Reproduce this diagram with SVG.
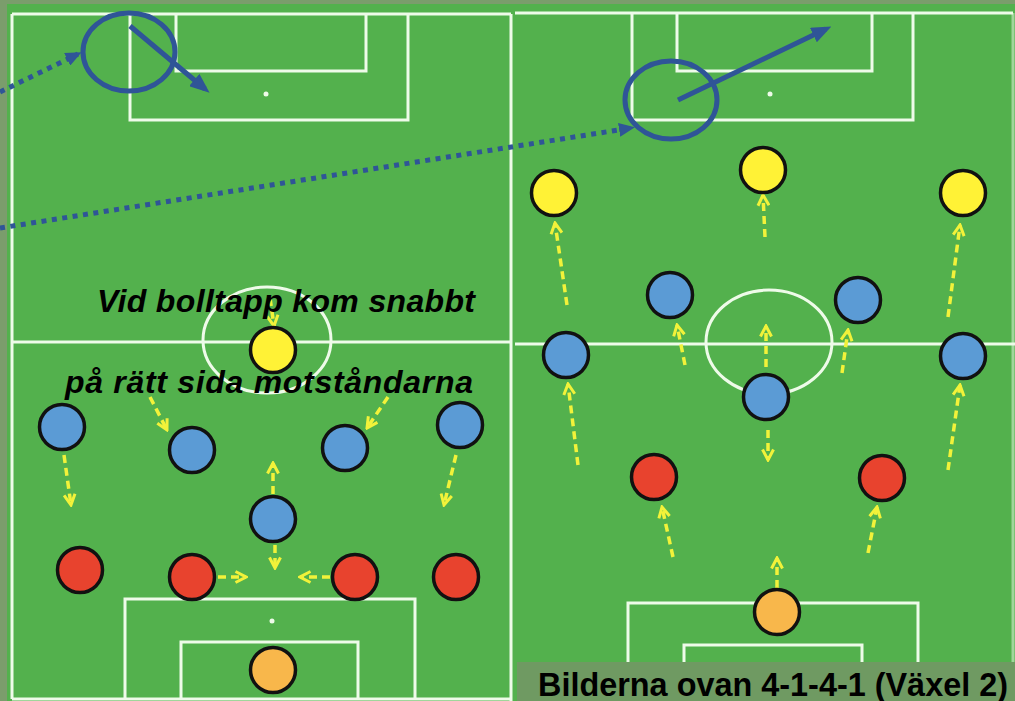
<svg xmlns="http://www.w3.org/2000/svg" width="1015" height="701" viewBox="0 0 1015 701">
<defs>
<style>
.line{fill:none;stroke:#eefbe9;stroke-width:3}
.spot{fill:#eefbe9}
.p circle{stroke:#111;stroke-width:3.5}
.blue{fill:#5b9bd5}
.yel{fill:#fff236}
.red{fill:#e8432e}
.gk{fill:#f8b74b}
.ya{fill:none;stroke:#f2f23a;stroke-width:3.5;stroke-dasharray:8 5;marker-end:url(#chev)}
.nav{fill:none;stroke:#2f5597;stroke-width:5}
.dot{fill:none;stroke:#2f5597;stroke-width:5;stroke-dasharray:5 5.5;marker-end:url(#tri2)}
.txt{font-family:"Liberation Sans",Arial,sans-serif;font-weight:bold;font-style:italic;font-size:32px;fill:#000}
</style>
<marker id="chev" viewBox="0 0 14 14" refX="12" refY="7" markerWidth="14" markerHeight="14" markerUnits="userSpaceOnUse" orient="auto">
<path d="M1.5,1.5 L12,7 L1.5,12.5" fill="none" stroke="#f2f23a" stroke-width="3"/>
</marker>
<marker id="tri" viewBox="0 0 20 16" refX="14" refY="8" markerWidth="20" markerHeight="16" markerUnits="userSpaceOnUse" orient="auto">
<path d="M0,0 L20,8 L0,16 z" fill="#2f5597"/>
</marker>
<marker id="tri2" viewBox="0 0 16 14" refX="12" refY="7" markerWidth="16" markerHeight="14" markerUnits="userSpaceOnUse" orient="auto">
<path d="M0,0 L16,7 L0,14 z" fill="#2f5597"/>
</marker>
</defs>
<rect x="0" y="0" width="1015" height="701" fill="#7b9d6c"/>
<rect x="7" y="4" width="508" height="697" fill="#53b14d"/>
<rect x="515" y="4" width="500" height="697" fill="#53b14d"/>
<g id="pitch-left">
<line class="line" x1="12" y1="14" x2="12" y2="699"/>
<line class="line" x1="12" y1="14" x2="511" y2="14"/>
<line class="line" x1="12" y1="699" x2="511" y2="699"/>
<line class="line" x1="511" y1="14" x2="511" y2="701"/>
<line class="line" x1="12" y1="342" x2="511" y2="342"/>
<ellipse class="line" cx="267" cy="340" rx="64" ry="53"/>
<path class="line" d="M130,14 V120 H408 V14"/>
<path class="line" d="M176,14 V71 H366 V14"/>
<circle class="spot" cx="266" cy="94" r="2.5"/>
<path class="line" d="M125,699 V599 H415 V699"/>
<path class="line" d="M181,699 V642 H358 V699"/>
<circle class="spot" cx="272" cy="621" r="2.5"/>
</g>
<g id="pitch-right">
<line class="line" x1="515" y1="13" x2="1013" y2="13"/>
<line class="line" x1="1013" y1="13" x2="1013" y2="701" stroke-opacity="0.5"/>
<line class="line" x1="515" y1="344" x2="1015" y2="344"/>
<ellipse class="line" cx="769" cy="342" rx="63" ry="52"/>
<path class="line" d="M632,13 V120 H913 V13"/>
<path class="line" d="M677,13 V71 H872 V13"/>
<circle class="spot" cx="770" cy="94" r="2.5"/>
<path class="line" d="M628,701 V603 H918 V701"/>
<path class="line" d="M684,701 V645 H862 V701"/>
</g>
<g id="connectors">
<line class="ya" x1="270" y1="298" x2="274" y2="326"/>
<line class="ya" x1="150" y1="397" x2="167" y2="430"/>
<line class="ya" x1="388" y1="397" x2="367" y2="428"/>
<line class="ya" x1="64" y1="455" x2="71" y2="505"/>
<line class="ya" x1="456" y1="455" x2="444" y2="505"/>
<line class="ya" x1="273" y1="494" x2="273" y2="463"/>
<line class="ya" x1="275" y1="545" x2="275" y2="568"/>
<line class="ya" x1="218" y1="577" x2="246" y2="577"/>
<line class="ya" x1="330" y1="577" x2="300" y2="577"/>
<line class="ya" x1="567" y1="305" x2="555" y2="223"/>
<line class="ya" x1="765" y1="237" x2="763" y2="195"/>
<line class="ya" x1="948" y1="317" x2="960" y2="225"/>
<line class="ya" x1="685" y1="365" x2="677" y2="325"/>
<line class="ya" x1="766" y1="367" x2="766" y2="326"/>
<line class="ya" x1="842" y1="373" x2="848" y2="330"/>
<line class="ya" x1="578" y1="465" x2="568" y2="384"/>
<line class="ya" x1="948" y1="470" x2="960" y2="385"/>
<line class="ya" x1="768" y1="430" x2="768" y2="460"/>
<line class="ya" x1="673" y1="557" x2="662" y2="507"/>
<line class="ya" x1="868" y1="553" x2="877" y2="507"/>
<line class="ya" x1="777" y1="588" x2="777" y2="558"/>
<ellipse class="nav" cx="129" cy="52" rx="46" ry="39"/>
<line class="nav" x1="130" y1="26" x2="205" y2="89" marker-end="url(#tri)"/>
<ellipse class="nav" cx="671" cy="100" rx="46" ry="39"/>
<line class="nav" x1="678" y1="100" x2="826" y2="29" marker-end="url(#tri)"/>
<line class="dot" x1="0" y1="92" x2="78" y2="54"/>
<line class="dot" x1="0" y1="228" x2="631" y2="128"/>
</g>
<g id="yellow-left-1" class="p"><circle class="yel" cx="273" cy="350" r="22.5"/></g>
<g id="blue-left-1" class="p"><circle class="blue" cx="62" cy="427" r="22.5"/></g>
<g id="blue-left-2" class="p"><circle class="blue" cx="192" cy="450" r="22.5"/></g>
<g id="blue-left-3" class="p"><circle class="blue" cx="345" cy="448" r="22.5"/></g>
<g id="blue-left-4" class="p"><circle class="blue" cx="460" cy="425" r="22.5"/></g>
<g id="blue-left-5" class="p"><circle class="blue" cx="273" cy="519" r="22.5"/></g>
<g id="red-left-1" class="p"><circle class="red" cx="80" cy="570" r="22.5"/></g>
<g id="red-left-2" class="p"><circle class="red" cx="192" cy="577" r="22.5"/></g>
<g id="red-left-3" class="p"><circle class="red" cx="355" cy="577" r="22.5"/></g>
<g id="red-left-4" class="p"><circle class="red" cx="456" cy="577" r="22.5"/></g>
<g id="gk-left" class="p"><circle class="gk" cx="273" cy="670" r="22.5"/></g>
<g id="yellow-right-1" class="p"><circle class="yel" cx="554" cy="193" r="22.5"/></g>
<g id="yellow-right-2" class="p"><circle class="yel" cx="763" cy="170" r="22.5"/></g>
<g id="yellow-right-3" class="p"><circle class="yel" cx="963" cy="193" r="22.5"/></g>
<g id="blue-right-1" class="p"><circle class="blue" cx="670" cy="295" r="22.5"/></g>
<g id="blue-right-2" class="p"><circle class="blue" cx="858" cy="300" r="22.5"/></g>
<g id="blue-right-3" class="p"><circle class="blue" cx="566" cy="355" r="22.5"/></g>
<g id="blue-right-4" class="p"><circle class="blue" cx="963" cy="356" r="22.5"/></g>
<g id="blue-right-5" class="p"><circle class="blue" cx="766" cy="397" r="22.5"/></g>
<g id="red-right-1" class="p"><circle class="red" cx="654" cy="477" r="22.5"/></g>
<g id="red-right-2" class="p"><circle class="red" cx="882" cy="478" r="22.5"/></g>
<g id="gk-right" class="p"><circle class="gk" cx="777" cy="612" r="22.5"/></g>
<g id="texts">
<text class="txt" x="97" y="312" textLength="378">Vid bolltapp kom snabbt</text>
<text class="txt" x="65" y="393" textLength="408">på rätt sida motståndarna</text>
</g>
<g id="caption">
<rect x="517" y="662" width="498" height="39" fill="#6f9a62"/>
<text x="538" y="696" font-family="'Liberation Sans',Arial,sans-serif" font-weight="bold" font-size="33" fill="#000" textLength="470" lengthAdjust="spacingAndGlyphs">Bilderna ovan 4-1-4-1 (Växel 2)</text>
</g>
</svg>
